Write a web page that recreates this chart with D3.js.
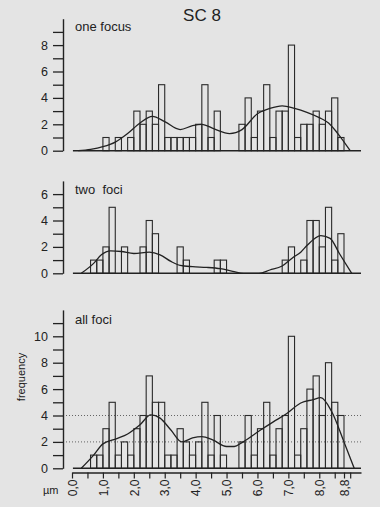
<!DOCTYPE html>
<html>
<head>
<meta charset="utf-8">
<script src="https://cdn.jsdelivr.net/npm/d3@7/dist/d3.min.js"></script>
<style>
  body { margin: 0; background: #e4e4e4; }
  svg { display: block; font-family: "Liberation Sans", Arial, sans-serif; }
</style>
</head>
<body>
<div id="chart"></div>
<script>
// histogram counts per 0.2 µm bin, 0.0 .. 8.8
const binWidth = 0.2;
const oneFocus = [0,0,0,0,0,1,0,1,0,1,3,2,3,2,5,1,1,1,1,1,2,5,1,3,0,0,0,2,4,1,3,5,1,3,3,8,1,2,2,3,2,3,4,1];
const twoFoci  = [0,0,0,1,1,2,5,0,2,0,0,2,4,3,0,0,0,2,1,0,0,0,0,1,1,0,0,0,0,0,0,0,0,0,1,2,0,1,4,4,2,5,1,3];
const allFoci  = [0,0,0,1,1,3,5,1,2,1,3,4,7,5,5,1,1,3,2,1,2,5,1,4,1,0,0,2,4,1,3,5,1,3,4,10,1,3,6,7,4,8,5,4];

// density curves: [µm, frequency]
const oneFocusCurve = [[0.2,0],[0.6,0.1],[1.0,0.3],[1.4,0.65],[1.8,1.3],[2.2,2.1],[2.6,2.6],[3.0,2.2],[3.5,1.6],[3.9,1.9],[4.2,2.0],[4.6,1.65],[5.1,1.3],[5.5,1.6],[6.0,2.8],[6.4,3.2],[6.8,3.4],[7.2,3.2],[7.6,2.9],[8.0,2.5],[8.3,2.1],[8.6,1.3],[9.0,0]];
const twoFociCurve = [[0.3,0],[0.7,0.75],[0.95,1.4],[1.25,1.7],[1.6,1.65],[2.0,1.5],[2.5,1.6],[2.85,1.4],[3.2,0.9],[3.5,0.6],[3.9,0.5],[4.35,0.45],[4.8,0.35],[5.2,0.15],[5.55,0],[6.05,0],[6.4,0.25],[6.8,0.55],[7.15,1.2],[7.4,1.6],[7.6,2.1],[8.05,2.85],[8.35,2.65],[8.65,1.5],[9.05,0]];
const allFociCurve = [[0.3,0],[0.7,1.0],[1.0,1.85],[1.45,2.25],[1.8,2.6],[2.2,3.3],[2.55,4.05],[2.85,3.8],[3.2,2.9],[3.55,2.0],[3.9,2.3],[4.2,2.4],[4.55,2.15],[5.0,1.65],[5.25,1.65],[5.5,1.95],[6.1,2.9],[6.5,3.5],[6.95,4.15],[7.4,4.95],[7.8,5.2],[8.05,5.35],[8.4,4.3],[8.8,2.0],[9.13,0]];

const yLabels = [0, 2, 4, 6, 8, 10];
const xTicks = [0,0.5,1,1.5,2,2.5,3,3.5,4,4.5,5,5.5,6,6.5,7,7.5,8,8.5,8.8,9];
const xLabels = [0,1,2,3,4,5,6,7,8,8.8];
const refLines = [2, 4];

const width = 380, height = 507;
const svg = d3.select("#chart").append("svg")
    .attr("width", width)
    .attr("height", height);

svg.append("rect").attr("width", width).attr("height", height).attr("fill", "#e4e4e4");

const x = d3.scaleLinear().domain([0, 9.35]).range([72, 361]);
const axisX = 63;
const ink = "#222";

svg.append("text")
    .attr("x", 202).attr("y", 21)
    .attr("text-anchor", "middle")
    .style("font-size", "17px")
    .attr("fill", ink)
    .text("SC 8");

const panels = [
    { name: "one focus", counts: oneFocus, curve: oneFocusCurve, base: 150.7, top: 10, unit: 13.2, labelY: 31 },
    { name: "two  foci", counts: twoFoci, curve: twoFociCurve, base: 273.3, top: 7, unit: 13.2, labelY: 194 },
    { name: "all foci", counts: allFoci, curve: allFociCurve, base: 468.3, top: 12, unit: 13.2, labelY: 324 }
];

panels.forEach((p, pi) => {
    const y = d3.scaleLinear().domain([0, p.top]).range([p.base, p.base - p.top * p.unit]);
    const g = svg.append("g");

    // reference lines (bottom panel only)
    if (pi === 2) {
        g.selectAll(".ref").data(refLines).enter().append("line")
            .attr("x1", axisX).attr("x2", 362)
            .attr("y1", d => y(d)).attr("y2", d => y(d))
            .attr("stroke", "#555").attr("stroke-width", 0.9)
            .attr("stroke-dasharray", "1,2");
    }

    // bars
    g.selectAll(".bar").data(p.counts.map((c, i) => ({ i: i, c: c })).filter(d => d.c > 0))
        .enter().append("rect")
        .attr("x", d => x(d.i * binWidth))
        .attr("width", d => x((d.i + 1) * binWidth) - x(d.i * binWidth))
        .attr("y", d => y(d.c))
        .attr("height", d => y(0) - y(d.c))
        .attr("fill", "none")
        .attr("stroke", "#2a2a2a")
        .attr("stroke-width", 1.1);

    // baseline
    g.append("line")
        .attr("x1", x(0.03)).attr("x2", x(9.35))
        .attr("y1", y(0)).attr("y2", y(0))
        .attr("stroke", ink).attr("stroke-width", 1.4);

    // density curve
    const line = d3.line()
        .x(d => x(d[0]))
        .y(d => y(d[1]))
        .curve(d3.curveMonotoneX);
    g.append("path")
        .datum(p.curve)
        .attr("d", line)
        .attr("fill", "none")
        .attr("stroke", ink)
        .attr("stroke-width", 1.3);

    // y axis
    const yAxis = d3.axisLeft(y)
        .tickValues(d3.range(0, p.top))
        .tickSize(10)
        .tickSizeOuter(0)
        .tickFormat(d => yLabels.includes(d) ? d : "");
    const ya = g.append("g")
        .attr("transform", `translate(${axisX},0)`)
        .call(yAxis);
    ya.select(".domain").attr("stroke", ink).attr("stroke-width", 1.4);
    ya.selectAll(".tick line").attr("stroke", ink).attr("stroke-width", 1.3);
    ya.selectAll(".tick text")
        .attr("x", -15)
        .style("font-size", "12.5px")
        .style("font-family", "'Liberation Sans', Arial, sans-serif")
        .attr("fill", ink);

    g.append("text")
        .attr("x", 75).attr("y", p.labelY)
        .style("font-size", "13px")
        .attr("fill", ink)
        .style("white-space", "pre")
        .attr("xml:space", "preserve")
        .text(p.name);
});

// x axis under bottom panel
const xAxis = d3.axisBottom(x)
    .tickValues(xTicks)
    .tickSize(6)
    .tickSizeOuter(0)
    .tickFormat(d => xLabels.includes(d) ? d.toFixed(1).replace(".", ",") : "");
const xa = svg.append("g")
    .attr("transform", "translate(0,472.5)")
    .call(xAxis);
xa.select(".domain").attr("stroke", ink).attr("stroke-width", 1.4);
xa.selectAll(".tick line").attr("stroke", ink).attr("stroke-width", 1.2);
xa.selectAll(".tick text")
    .attr("transform", "translate(0,7) rotate(-90)")
    .attr("x", 0).attr("y", 0)
    .attr("dy", "0.35em")
    .attr("text-anchor", "end")
    .style("font-size", "12px")
    .style("font-family", "'Liberation Sans', Arial, sans-serif")
    .attr("fill", ink);

svg.append("text")
    .attr("x", 43).attr("y", 494)
    .style("font-size", "11px")
    .attr("fill", ink)
    .text("µm");

svg.append("text")
    .attr("transform", "translate(25,377) rotate(-90)")
    .attr("text-anchor", "middle")
    .style("font-size", "11px")
    .attr("fill", ink)
    .text("frequency");
</script>
</body>
</html>
